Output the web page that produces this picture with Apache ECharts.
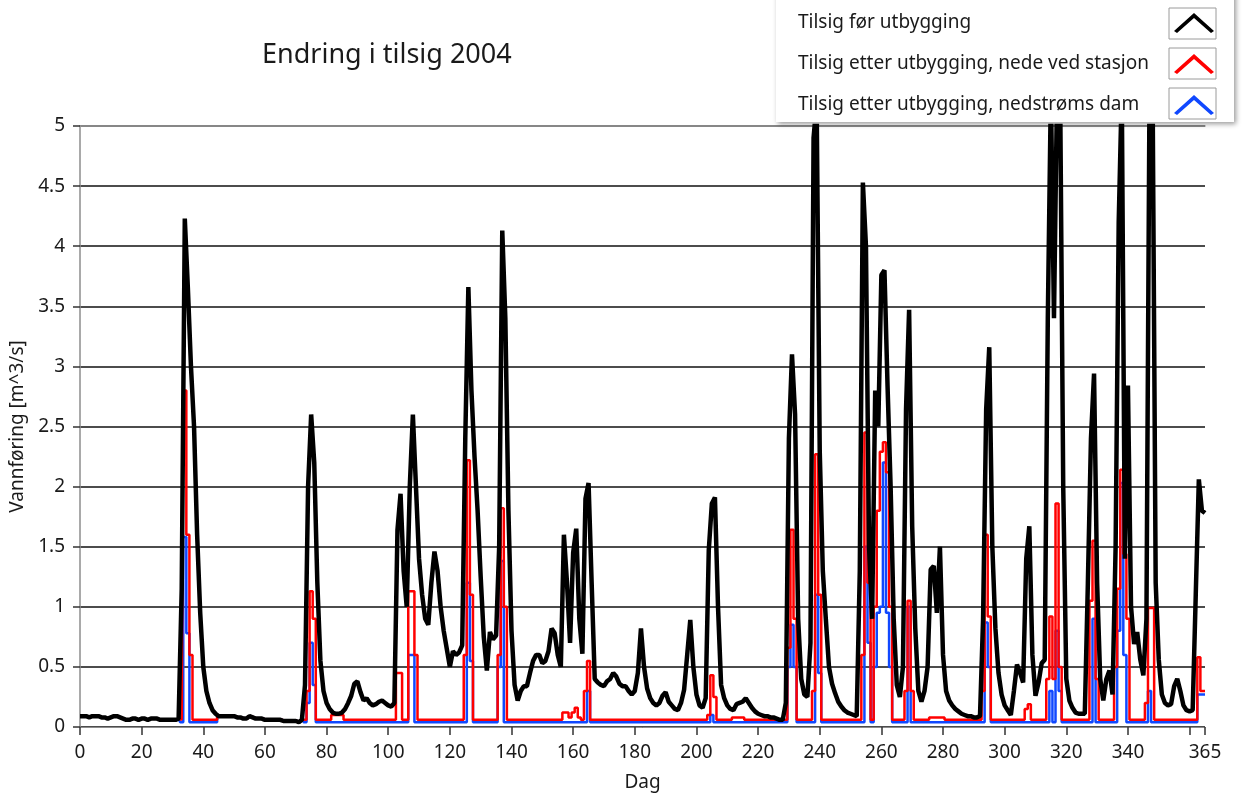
<!DOCTYPE html>
<html>
<head>
<meta charset="utf-8">
<script src="https://cdn.jsdelivr.net/npm/echarts@6/dist/echarts.min.js"></script>
<style>
  html, body { margin: 0; padding: 0; background: #fff; }
  #chart { width: 1243px; height: 794px; }
</style>
</head>
<body>
<div id="chart"></div>
<script>
// Tilsig per dag (dag 0..365), lest av figuren
const tilsigFor = [
  0.09,0.09,0.09,0.08,0.09,0.09,0.09,0.08,0.08,0.07,
  0.08,0.09,0.09,0.08,0.07,0.06,0.06,0.07,0.07,0.06,
  0.07,0.07,0.06,0.07,0.07,0.07,0.06,0.06,0.06,0.06,
  0.06,0.06,0.07,1.15,4.23,3.65,3.0,2.5,1.6,0.95,
  0.5,0.3,0.2,0.14,0.11,0.09,0.09,0.09,0.09,0.09,
  0.09,0.08,0.08,0.07,0.07,0.09,0.08,0.07,0.07,0.07,
  0.06,0.06,0.06,0.06,0.06,0.06,0.05,0.05,0.05,0.05,
  0.05,0.04,0.06,0.35,2.0,2.6,2.2,1.2,0.55,0.3,
  0.2,0.15,0.12,0.11,0.11,0.12,0.15,0.2,0.26,0.36,
  0.38,0.29,0.22,0.24,0.2,0.18,0.19,0.21,0.22,0.2,
  0.18,0.17,0.2,1.64,1.94,1.3,1.0,2.0,2.6,2.0,
  1.4,1.1,0.9,0.85,1.2,1.46,1.3,1.0,0.8,0.65,
  0.5,0.63,0.6,0.62,0.68,2.4,3.66,2.8,2.25,1.8,
  1.25,0.75,0.47,0.79,0.73,0.76,1.5,4.13,3.4,1.8,
  0.8,0.35,0.22,0.3,0.34,0.34,0.45,0.55,0.6,0.6,
  0.53,0.55,0.63,0.82,0.78,0.6,0.5,1.6,1.2,0.7,
  1.45,1.65,0.9,0.61,1.9,2.03,1.2,0.4,0.37,0.35,
  0.34,0.38,0.4,0.45,0.42,0.36,0.34,0.34,0.3,0.27,
  0.3,0.45,0.82,0.5,0.32,0.24,0.2,0.18,0.2,0.26,
  0.29,0.21,0.18,0.15,0.14,0.2,0.31,0.6,0.89,0.5,
  0.27,0.18,0.16,0.24,1.47,1.86,1.91,1.0,0.35,0.24,
  0.18,0.15,0.14,0.19,0.2,0.21,0.24,0.2,0.16,0.13,
  0.11,0.1,0.09,0.09,0.08,0.08,0.07,0.06,0.06,0.2,
  2.4,3.1,2.6,0.9,0.4,0.27,0.25,0.7,4.9,5.2,
  2.3,1.3,0.89,0.5,0.36,0.28,0.21,0.17,0.14,0.12,
  0.11,0.1,0.09,1.3,4.53,4.0,1.5,0.9,2.8,2.5,
  3.76,3.8,2.84,2.0,0.9,0.35,0.25,0.5,2.64,3.47,
  1.67,0.82,0.3,0.21,0.3,0.5,1.31,1.34,0.95,1.5,
  0.6,0.3,0.22,0.18,0.15,0.13,0.11,0.1,0.09,0.09,
  0.08,0.08,0.09,0.9,2.64,3.16,1.5,0.82,0.45,0.27,
  0.18,0.14,0.1,0.3,0.52,0.45,0.37,1.4,1.67,0.6,
  0.26,0.37,0.53,0.56,3.4,5.3,3.4,5.3,5.3,2.0,
  0.4,0.22,0.16,0.12,0.11,0.11,0.11,1.2,2.4,2.94,
  1.2,0.4,0.22,0.4,0.47,0.27,1.5,4.2,5.3,1.4,
  2.84,1.0,0.69,0.79,0.56,0.43,0.9,5.3,5.3,1.2,
  0.56,0.27,0.2,0.18,0.19,0.34,0.4,0.3,0.18,0.14,
  0.13,0.14,1.1,2.06,1.8,1.78
];

const tilsigStasjon = [
  0.09,0.09,0.09,0.08,0.09,0.09,0.09,0.08,0.08,0.07,
  0.08,0.09,0.09,0.08,0.07,0.06,0.06,0.07,0.07,0.06,
  0.07,0.07,0.06,0.07,0.07,0.07,0.06,0.06,0.06,0.06,
  0.06,0.06,0.07,0.06,2.8,1.6,0.6,0.06,0.06,0.06,
  0.06,0.06,0.06,0.06,0.06,0.09,0.09,0.09,0.09,0.09,
  0.09,0.08,0.08,0.07,0.07,0.09,0.08,0.07,0.07,0.07,
  0.06,0.06,0.06,0.06,0.06,0.06,0.05,0.05,0.05,0.05,
  0.05,0.04,0.06,0.06,0.3,1.13,0.9,0.06,0.06,0.06,
  0.06,0.06,0.1,0.1,0.1,0.1,0.06,0.06,0.06,0.06,
  0.06,0.06,0.06,0.06,0.06,0.06,0.06,0.06,0.06,0.06,
  0.06,0.06,0.06,0.45,0.45,0.06,0.06,1.13,1.13,0.6,
  0.06,0.06,0.06,0.06,0.06,0.06,0.06,0.06,0.06,0.06,
  0.06,0.06,0.06,0.06,0.06,0.6,2.22,1.1,0.06,0.06,
  0.06,0.06,0.06,0.06,0.06,0.06,0.6,1.82,1.0,0.06,
  0.06,0.06,0.06,0.06,0.06,0.06,0.06,0.06,0.06,0.06,
  0.06,0.06,0.06,0.06,0.06,0.06,0.06,0.12,0.12,0.08,
  0.12,0.16,0.08,0.06,0.3,0.55,0.06,0.06,0.06,0.06,
  0.06,0.06,0.06,0.06,0.06,0.06,0.06,0.06,0.06,0.06,
  0.06,0.06,0.06,0.06,0.06,0.06,0.06,0.06,0.06,0.06,
  0.06,0.06,0.06,0.06,0.06,0.06,0.06,0.06,0.06,0.06,
  0.06,0.06,0.06,0.06,0.1,0.43,0.25,0.06,0.06,0.06,
  0.06,0.06,0.08,0.08,0.08,0.08,0.06,0.06,0.06,0.06,
  0.06,0.06,0.06,0.06,0.06,0.06,0.06,0.06,0.06,0.06,
  0.66,1.64,0.9,0.06,0.06,0.06,0.06,0.06,0.3,2.27,
  1.1,0.06,0.06,0.06,0.06,0.06,0.06,0.06,0.06,0.06,
  0.06,0.06,0.06,0.06,0.6,2.45,1.2,0.06,1.0,1.8,
  2.29,2.37,2.12,1.0,0.06,0.06,0.06,0.06,0.3,1.05,
  0.3,0.06,0.06,0.06,0.06,0.06,0.08,0.08,0.08,0.08,
  0.08,0.06,0.06,0.06,0.06,0.06,0.06,0.06,0.06,0.06,
  0.06,0.06,0.06,0.3,1.6,0.92,0.06,0.06,0.06,0.06,
  0.06,0.06,0.06,0.06,0.06,0.06,0.06,0.15,0.19,0.06,
  0.06,0.06,0.06,0.06,0.4,0.92,0.4,1.86,0.5,0.06,
  0.06,0.06,0.06,0.06,0.06,0.06,0.06,0.06,1.05,1.55,
  0.4,0.06,0.06,0.06,0.06,0.06,0.5,1.15,2.14,1.44,
  0.9,0.06,0.06,0.06,0.06,0.06,0.2,0.99,0.99,0.06,
  0.06,0.06,0.06,0.06,0.06,0.06,0.06,0.06,0.06,0.06,
  0.06,0.06,0.06,0.58,0.3,0.3
];

const tilsigDam = [
  0.09,0.09,0.09,0.08,0.09,0.09,0.09,0.08,0.08,0.07,
  0.08,0.09,0.09,0.08,0.07,0.06,0.06,0.07,0.07,0.06,
  0.07,0.07,0.06,0.07,0.07,0.07,0.06,0.06,0.06,0.06,
  0.06,0.06,0.07,0.04,1.58,0.78,0.04,0.04,0.04,0.04,
  0.04,0.04,0.04,0.04,0.04,0.09,0.09,0.09,0.09,0.09,
  0.09,0.08,0.08,0.07,0.07,0.09,0.08,0.07,0.07,0.07,
  0.06,0.06,0.06,0.06,0.06,0.06,0.05,0.05,0.05,0.05,
  0.05,0.04,0.06,0.04,0.2,0.7,0.35,0.04,0.04,0.04,
  0.04,0.04,0.04,0.04,0.04,0.04,0.04,0.04,0.04,0.04,
  0.04,0.04,0.04,0.04,0.04,0.04,0.04,0.04,0.04,0.04,
  0.04,0.04,0.04,0.04,0.04,0.04,0.04,0.6,0.6,0.04,
  0.04,0.04,0.04,0.04,0.04,0.04,0.04,0.04,0.04,0.04,
  0.04,0.04,0.04,0.04,0.04,0.04,1.2,0.55,0.04,0.04,
  0.04,0.04,0.04,0.04,0.04,0.04,0.5,1.38,0.04,0.04,
  0.04,0.04,0.04,0.04,0.04,0.04,0.04,0.04,0.04,0.04,
  0.04,0.04,0.04,0.04,0.04,0.04,0.04,0.04,0.04,0.04,
  0.04,0.04,0.04,0.04,0.04,0.3,0.04,0.04,0.04,0.04,
  0.04,0.04,0.04,0.04,0.04,0.04,0.04,0.04,0.04,0.04,
  0.04,0.04,0.04,0.04,0.04,0.04,0.04,0.04,0.04,0.04,
  0.04,0.04,0.04,0.04,0.04,0.04,0.04,0.04,0.04,0.04,
  0.04,0.04,0.04,0.04,0.04,0.1,0.04,0.04,0.04,0.04,
  0.04,0.04,0.04,0.04,0.04,0.04,0.04,0.04,0.04,0.04,
  0.04,0.04,0.04,0.04,0.04,0.04,0.04,0.04,0.04,0.04,
  0.5,0.85,0.5,0.04,0.04,0.04,0.04,0.04,0.04,1.1,
  0.45,0.04,0.04,0.04,0.04,0.04,0.04,0.04,0.04,0.04,
  0.04,0.04,0.04,0.04,0.04,1.5,0.7,0.04,0.5,0.95,
  1.0,2.2,0.95,0.5,0.04,0.04,0.04,0.04,0.04,1.0,
  0.04,0.04,0.04,0.04,0.04,0.04,0.04,0.04,0.04,0.04,
  0.04,0.04,0.04,0.04,0.04,0.04,0.04,0.04,0.04,0.04,
  0.04,0.04,0.04,0.04,0.87,0.5,0.04,0.04,0.04,0.04,
  0.04,0.04,0.04,0.04,0.04,0.04,0.04,0.04,0.04,0.04,
  0.04,0.04,0.04,0.04,0.04,0.3,0.04,0.8,0.3,0.04,
  0.04,0.04,0.04,0.04,0.04,0.04,0.04,0.04,0.04,0.9,
  0.04,0.04,0.04,0.04,0.04,0.04,0.04,0.8,2.03,0.6,
  0.04,0.04,0.04,0.04,0.04,0.04,0.04,0.3,0.04,0.04,
  0.04,0.04,0.04,0.04,0.04,0.04,0.04,0.04,0.04,0.04,
  0.04,0.04,0.04,0.27,0.27,0.27
];

const navn = [
  'Tilsig før utbygging',
  'Tilsig etter utbygging, nede ved stasjon',
  'Tilsig etter utbygging, nedstrøms dam'
];
const farger = ['#000000', '#ff0000', '#1048ff'];

const font = 'Noto Sans, DejaVu Sans, sans-serif';
const tx = '#1a1a1a';
const toPairs = arr => arr.map((v, i) => [i, v]);

// små rammer rundt legendesymbolene
const boksY = [8, 48, 88];

const chart = echarts.init(document.getElementById('chart'));
chart.setOption({
  animation: false,
  backgroundColor: '#fff',
  title: {
    text: 'Endring i tilsig 2004',
    left: 257, top: 37,
    textStyle: { fontFamily: font, fontSize: 27, fontWeight: 'normal', color: tx }
  },
  grid: { left: 80, right: 38, top: 126, bottom: 67, outerBoundsMode: 'none' },
  legend: {
    data: navn,
    orient: 'vertical',
    left: 798, top: 13,
    padding: 0,
    align: 'right',
    itemWidth: 42, itemHeight: 20, itemGap: 21,
    icon: 'path://M0,18 L20,0 L40,18 L37,20 L20,5 L3,20 Z',
    formatter: name => '{t|' + name + '}',
    textStyle: {
      fontFamily: font, fontSize: 19, color: tx,
      rich: { t: { width: 370, align: 'left', fontFamily: font, fontSize: 19, color: tx, lineHeight: 20 } }
    },
    z: 10
  },
  graphic: [
    {
      type: 'rect', z: 5, silent: true,
      shape: { x: 776, y: -10, width: 458, height: 132 },
      style: { fill: '#fff', shadowBlur: 5, shadowColor: 'rgba(0,0,0,0.4)', shadowOffsetX: 2, shadowOffsetY: 2 }
    }
  ].concat(boksY.map(y => ({
    type: 'rect', z: 6, silent: true,
    shape: { x: 1169, y: y, width: 47, height: 31 },
    style: { fill: 'none', stroke: '#9a9a9a', lineWidth: 1 }
  }))),
  xAxis: [
    {
      type: 'value', min: 0, max: 365, interval: 20,
      name: 'Dag', nameLocation: 'middle', nameGap: 46,
      nameTextStyle: { fontFamily: font, fontSize: 19, color: tx },
      axisLine: { show: true, lineStyle: { color: '#8c8c8c', width: 1 } },
      axisTick: { show: true, length: 8, lineStyle: { color: '#333', width: 1.5 } },
      axisLabel: {
        fontFamily: font, fontSize: 19, color: tx, margin: 16,
        formatter: v => (v === 360 ? '' : String(v))
      },
      splitLine: { show: false }
    },
    {
      // øvre ramme
      type: 'value', position: 'top', min: 0, max: 365,
      axisLine: { show: true, lineStyle: { color: '#9a9a9a', width: 1.5 } },
      axisTick: { show: false }, axisLabel: { show: false }, splitLine: { show: false }
    }
  ],
  yAxis: {
    type: 'value', min: 0, max: 5, interval: 0.5,
    name: 'Vannføring [m^3/s]', nameLocation: 'middle', nameGap: 47,
    nameTextStyle: { fontFamily: font, fontSize: 19, color: tx },
    axisLine: { show: true, lineStyle: { color: '#8c8c8c', width: 1.5 } },
    axisTick: { show: true, length: 7, lineStyle: { color: '#333', width: 1.5 } },
    axisLabel: { fontFamily: font, fontSize: 19, color: tx, margin: 15 },
    splitLine: { show: true, lineStyle: { color: '#111', width: 1.5 } }
  },
  series: [
    {
      name: navn[2], type: 'line', data: toPairs(tilsigDam), step: 'middle',
      showSymbol: false, clip: true, z: 2,
      lineStyle: { color: farger[2], width: 2.5 }, itemStyle: { color: farger[2] }
    },
    {
      name: navn[1], type: 'line', data: toPairs(tilsigStasjon), step: 'middle',
      showSymbol: false, clip: true, z: 3,
      lineStyle: { color: farger[1], width: 2.5 }, itemStyle: { color: farger[1] }
    },
    {
      name: navn[0], type: 'line', data: toPairs(tilsigFor),
      showSymbol: false, clip: true, z: 4,
      lineStyle: { color: farger[0], width: 4.5 }, itemStyle: { color: farger[0] }
    }
  ]
});
</script>
</body>
</html>
